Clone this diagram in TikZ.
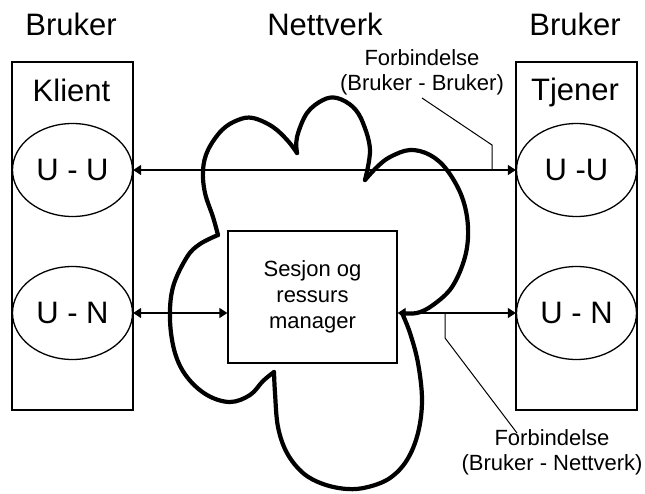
\documentclass[tikz,border=0pt]{standalone}
\usepackage{fontspec}
\setmainfont{Liberation Sans}
\usetikzlibrary{arrows.meta,shapes.geometric}
\begin{document}
\begin{tikzpicture}[x=1pt,y=-1pt,
  thin line/.style={line width=1.3pt},
  bigtext/.style={font=\fontsize{31}{36}\selectfont, inner sep=0pt},
  smalltext/.style={font=\fontsize{22}{25}\selectfont, inner sep=0pt, align=center},
  userbox/.style={draw, thin line, minimum width=121pt, minimum height=348pt, inner sep=0pt},
  layer/.style={draw, thin line, ellipse, minimum width=120pt, minimum height=93pt, inner sep=0pt,
    font=\fontsize{31}{36}\selectfont},
  manager/.style={draw, thin line, fill=white, minimum width=169pt, minimum height=132pt,
    align=center, font=\fontsize{22}{26}\selectfont},
  link/.style={thin line, {Triangle[length=8pt,width=10pt]}-{Triangle[length=8pt,width=10pt]}},
  leader/.style={line width=1pt},
  lobe/.style={line width=4.2pt, line cap=round, line join=round}]
\useasboundingbox (0,0) rectangle (645,493);

% column headings
\node[bigtext, anchor=base] (hleft) at (71,35) {Bruker};
\node[bigtext, anchor=base] (hmid) at (325,35) {Nettverk};
\node[bigtext, anchor=base] (hright) at (575,35) {Bruker};

% client and server columns
\node[userbox] (klient) at (72.5,236) {};
\node[userbox] (tjener) at (576.5,236) {};
\node[bigtext, anchor=base] (klientlbl) at (71.5,101) {Klient};
\node[bigtext, anchor=base] (tjenerlbl) at (575,100) {Tjener};

\node[layer] (uu1) at (72.5,170) {U - U};
\node[layer] (un1) at (72.5,313) {U - N};
\node[layer] (uu2) at (576.5,170) {U -U};
\node[layer] (un2) at (576.5,313) {U - N};

% session and resource manager
\node[manager] (srm) at (312.5,297) {Sesjon og\\ressurs\\manager};

% network cloud, one lobe at a time
\draw[lobe] plot[smooth, tension=0.6] coordinates {(218,235) (213,217) (205,193) (203,170) (208,150) (222,130) (238,120) (253,118) (273,127) (288,141) (297,153)};
\draw[lobe] plot[smooth, tension=0.6] coordinates {(297,153) (297,137) (307,113) (323,100) (337,98) (353,107) (363,123) (370,150) (365,180)};
\draw[lobe] plot[smooth, tension=0.6] coordinates {(365,180) (377,167) (390,157) (410,150) (430,155) (447,170) (462,197) (468,227) (465,257) (452,287) (433,305) (417,313) (402,313)};
\draw[lobe] plot[smooth, tension=0.6] coordinates {(402,313) (410,333) (418,363) (422,400) (418,433) (407,460) (390,478) (368,487) (347,489) (323,484) (303,473) (287,453) (278,427) (275,393) (274,372)};
\draw[lobe] plot[smooth, tension=0.6] coordinates {(274,372) (263,381) (250,395) (230,402) (207,395) (187,377) (175,353) (170,320) (173,287) (187,257) (200,244) (218,235)};

% connections
\draw[link] (uu1.east) -- (uu2.west);
\draw[link] (un1.east) -- (un1.east -| srm.west);
\draw[link] (srm.east |- un2.west) -- (un2.west);

% annotations (base anchor sits on the last line)
\node[smalltext, anchor=base] (lbluu) at (422,90) {Forbindelse\\(Bruker - Bruker)};
\node[smalltext, anchor=base] (lblun) at (552,470) {Forbindelse\\(Bruker - Nettverk)};
\coordinate (p1) at (422,98);
\coordinate (p2) at (492,145);
\coordinate (p3) at (492,170);
\draw[leader] (p1) -- (p2) -- (p3);
\coordinate (q1) at (445,313);
\coordinate (q2) at (445,338);
\coordinate (q3) at (517,433);
\draw[leader] (q1) -- (q2) -- (q3);
\end{tikzpicture}
\end{document}
